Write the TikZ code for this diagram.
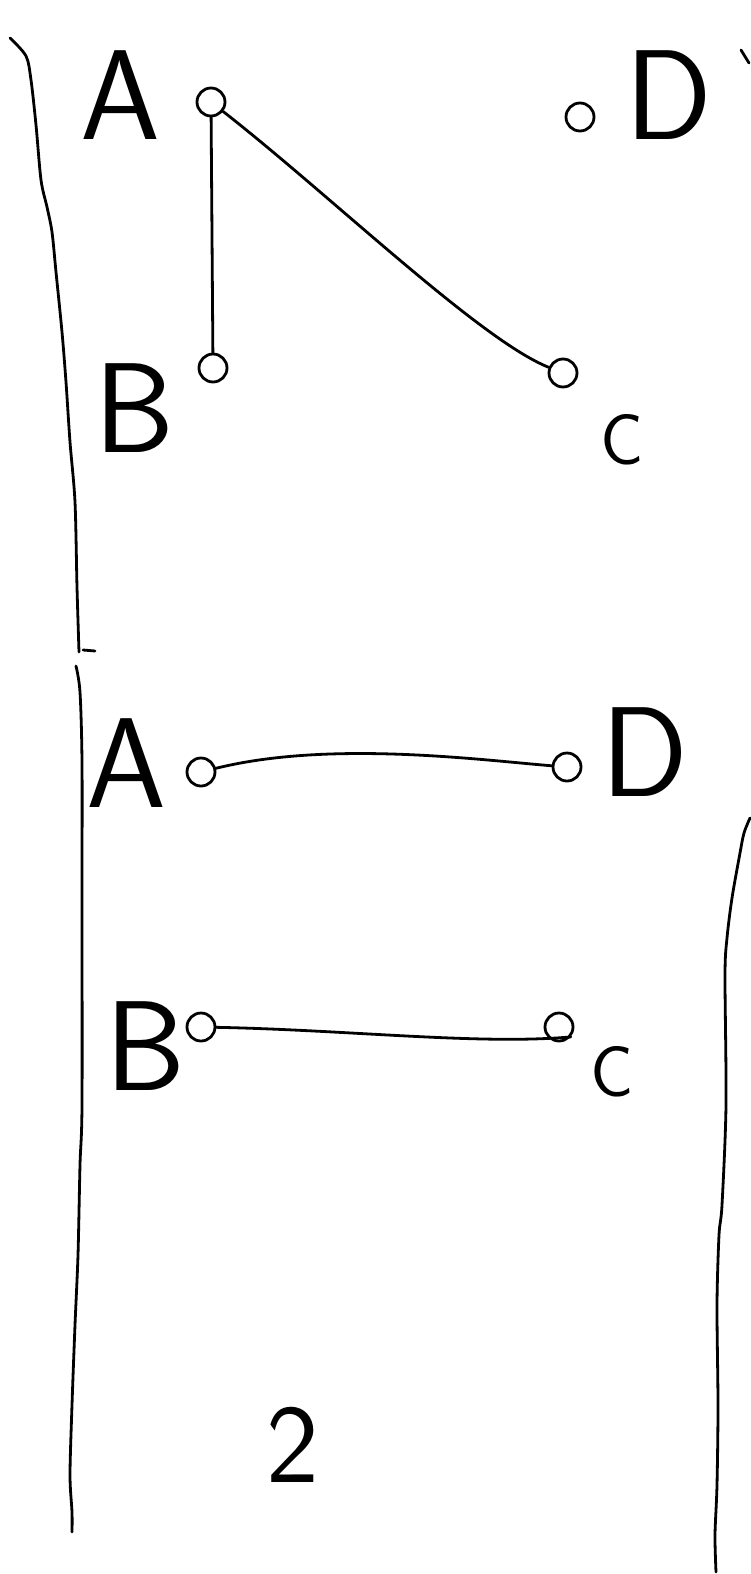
\documentclass[tikz,border=0pt]{standalone}
\usetikzlibrary{positioning}

\tikzset{
  vtx/.style={draw, circle, inner sep=0pt, minimum size=14pt},
  biglbl/.style={font={\sffamily\fontsize{64}{70}\selectfont}},
  smalllbl/.style={font={\sffamily\fontsize{36}{40}\selectfont}},
}

\begin{document}
\begin{tikzpicture}[x=0.5pt, y=-0.5pt, line width=1.4pt, line cap=round, line join=round]
\useasboundingbox (0,0) rectangle (750,1574);

% top graph
\node[vtx] (tA) at (211,102) {};
\node[vtx] (tD) at (580,117) {};
\node[vtx] (tB) at (213,368) {};
\node[vtx] (tC) at (563,373) {};

\node[biglbl] (labtA) at (120,95) {A};
\node[biglbl] (labtD) at (669,95) {D};
\node[biglbl] (labtB) at (135,408) {B};
\node[smalllbl] (labtC) at (622,440) {C};

\draw (tA) -- (tB);
\draw (tA) .. controls (330,195) and (480,340) .. (tC);

% bottom graph
\node[vtx] (bA) at (201,772) {};
\node[vtx] (bD) at (567,767) {};
\node[vtx] (bB) at (201,1027) {};
\node[vtx] (bC) at (559,1027) {};

\node[biglbl] (labbA) at (126,763) {A};
\node[biglbl] (labbD) at (645,752) {D};
\node[biglbl] (labbB) at (146,1046) {B};
\node[smalllbl] (labbC) at (612,1072) {C};

\draw (bA) .. controls (330,740) and (480,760) .. (bD);
\draw (bB) .. controls (350,1030) and (480,1045) .. (bC.-40);

\node[font={\sffamily\fontsize{56}{60}\selectfont}] (two) at (293,1445) {2};

% brackets
\draw plot[smooth] coordinates {(10,38) (26,56) (31,80) (36,125) (41,180) (47,207) (52,232) (56,272) (62,332) (66,382) (70,442) (75,502) (77,587) (79,652)};
\draw (83,650) -- (95,651);
\draw (741,50) -- (749,63);
\draw plot[smooth] coordinates {(76,666) (80,692) (82,762) (82,900) (82,1105) (80,1165) (78,1255) (75,1325) (72,1405) (70,1475) (72,1512) (72,1532)};
\draw plot[smooth] coordinates {(750,818) (744,833) (740,853) (732,898) (727,938) (725,975) (726,1105) (722,1205) (719,1235) (717,1305) (718,1405) (717,1485) (715,1535) (716,1572)};

\end{tikzpicture}
\end{document}
